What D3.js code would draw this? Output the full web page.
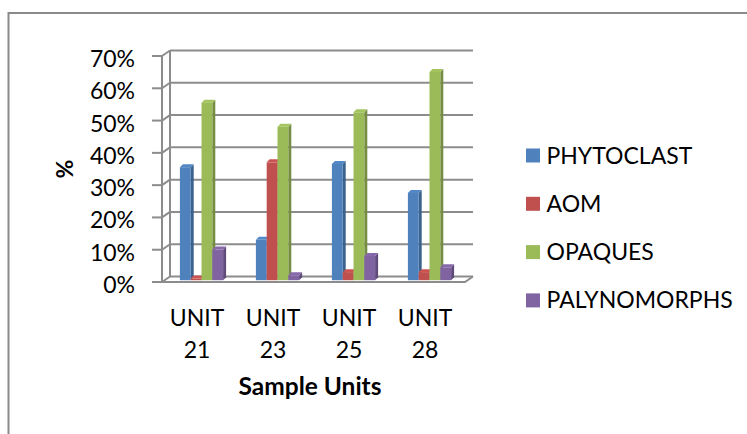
<!DOCTYPE html>
<html>
<head>
<meta charset="utf-8">
<script src="https://cdn.jsdelivr.net/npm/d3@7/dist/d3.min.js"></script>
<style>
  html, body { margin: 0; padding: 0; background: #fff; }
  svg { display: block; }
  text { font-family: Lato, "Open Sans", sans-serif; fill: #000; }
</style>
</head>
<body>
<svg id="chart" width="747" height="434"></svg>
<script>
// Composition of organic matter per sample unit (%)
const units = ["UNIT 21", "UNIT 23", "UNIT 25", "UNIT 28"];
const seriesNames = ["PHYTOCLAST", "AOM", "OPAQUES", "PALYNOMORPHS"];
const phytoclast   = [35, 12.5, 36, 27];
const aom          = [0.5, 36.5, 2.5, 2.5];
const opaques      = [55, 47.5, 52, 64.5];
const palynomorphs = [9.5, 1.5, 7.5, 4];
const yTicks = [0, 10, 20, 30, 40, 50, 60, 70];
const seriesColors = ["#4F81BD", "#C0504D", "#9BBB59", "#8064A2"];

const seriesValues = [phytoclast, aom, opaques, palynomorphs];

const svg = d3.select("#chart");

// outer frame (top and left edges)
svg.append("path")
  .attr("d", "M8.5,434 L8.5,13 L747,13")
  .attr("fill", "none").attr("stroke", "#8a8a8a").attr("stroke-width", 2);

// 3D box geometry: front plane and back wall offset
const front = { left: 162, right: 465, bottom: 282, top: 56 };
const depth = { dx: 8, dy: -5.5 };
const barDepth = { dx: 3, dy: -3 };

const yFront = d3.scaleLinear().domain([0, 70]).range([front.bottom, front.top]);
const yBack = v => yFront(v) + depth.dy;
const yBar = d3.scaleLinear().domain([0, 70]).range([front.bottom - 1.8, front.top - 1.8]);

const x0 = d3.scaleBand().domain(units).range([front.left, front.left + 304]).padding(0);
const clusterW = 43.2;
const x1 = d3.scaleBand().domain(seriesNames).range([0, clusterW]).padding(0);

const gridColor = "#8c8c8c";
const grid = svg.append("g");

// back wall gridlines
grid.selectAll("line.back").data(yTicks).join("line")
  .attr("x1", front.left + depth.dx).attr("x2", front.right + depth.dx)
  .attr("y1", d => yBack(d)).attr("y2", d => yBack(d))
  .attr("stroke", gridColor).attr("stroke-width", 2);

// left wall diagonals
grid.selectAll("line.side").data(yTicks).join("line")
  .attr("x1", front.left).attr("x2", front.left + depth.dx)
  .attr("y1", d => yFront(d)).attr("y2", d => yBack(d))
  .attr("stroke", gridColor).attr("stroke-width", 2);

// left wall verticals
grid.append("line")
  .attr("x1", front.left + depth.dx).attr("x2", front.left + depth.dx)
  .attr("y1", yBack(0)).attr("y2", yBack(70))
  .attr("stroke", gridColor).attr("stroke-width", 2);
grid.append("line")
  .attr("x1", front.left).attr("x2", front.left)
  .attr("y1", yFront(0)).attr("y2", yFront(70))
  .attr("stroke", gridColor).attr("stroke-width", 2);

// floor front and right edges
grid.append("path")
  .attr("d", `M${front.left},${yFront(0)} L${front.right},${yFront(0)} L${front.right + depth.dx},${yBack(0)}`)
  .attr("fill", "none").attr("stroke", gridColor).attr("stroke-width", 2);

// value axis ticks and labels
const yAxis = svg.append("g");
yAxis.selectAll("line").data(yTicks).join("line")
  .attr("x1", front.left - 10).attr("x2", front.left)
  .attr("y1", d => yFront(d)).attr("y2", d => yFront(d))
  .attr("stroke", gridColor).attr("stroke-width", 2);
yAxis.selectAll("text").data(yTicks).join("text")
  .attr("x", 135).attr("y", d => yFront(d) + 2)
  .attr("text-anchor", "end").attr("dominant-baseline", "central")
  .attr("font-size", 23)
  .text(d => d + "%");

// 3D columns
const shade = (c, k) => d3.rgb(c).darker(k).formatHex();
const bars = svg.append("g");
units.forEach((u, i) => {
  const cx = x0(u) + (x0.bandwidth() - clusterW) / 2 + 1.5;
  seriesNames.forEach((s, j) => {
    const v = seriesValues[j][i];
    const xl = cx + x1(s);
    const w = x1.bandwidth();
    const yt = yBar(v), yb = yBar(0);
    const dx = barDepth.dx, dy = barDepth.dy;
    const col = seriesColors[j];
    const g = bars.append("g");
    // right side face
    g.append("path")
      .attr("d", `M${xl + w},${yb} L${xl + w + dx},${yb + dy} L${xl + w + dx},${yt + dy} L${xl + w},${yt} Z`)
      .attr("fill", shade(col, 0.8));
    // top face
    g.append("path")
      .attr("d", `M${xl},${yt} L${xl + dx},${yt + dy} L${xl + w + dx},${yt + dy} L${xl + w},${yt} Z`)
      .attr("fill", d3.rgb(col).brighter(0.15).formatHex());
    // front face
    g.append("rect")
      .attr("x", xl).attr("y", yt).attr("width", w).attr("height", yb - yt)
      .attr("fill", col);
  });
});

// category labels (two lines)
const xLabels = svg.append("g");
units.forEach(u => {
  const [a, b] = u.split(" ");
  const cxl = x0(u) + x0.bandwidth() / 2 - 3;
  const t = xLabels.append("text")
    .attr("x", cxl)
    .attr("text-anchor", "middle")
    .attr("font-size", 23);
  t.append("tspan").attr("x", cxl).attr("y", 326).text(a);
  t.append("tspan").attr("x", cxl).attr("y", 358).text(b);
});

// axis titles
svg.append("text")
  .attr("x", 310).attr("y", 395)
  .attr("text-anchor", "middle")
  .attr("font-size", 24.5).attr("font-weight", "bold")
  .text("Sample Units");
svg.append("text")
  .attr("transform", "translate(64,169) rotate(-90)")
  .attr("text-anchor", "middle").attr("dominant-baseline", "central")
  .attr("font-size", 23).attr("font-weight", "bold")
  .text("%");

// legend
const legend = svg.append("g");
seriesNames.forEach((s, j) => {
  const cy = 155.5 + j * 48.3;
  legend.append("rect")
    .attr("x", 526).attr("y", cy - 7).attr("width", 14).attr("height", 14)
    .attr("fill", seriesColors[j]);
  legend.append("text")
    .attr("x", 546.5).attr("y", cy + 8)
    .attr("font-size", 23)
    .text(s);
});
</script>
</body>
</html>
